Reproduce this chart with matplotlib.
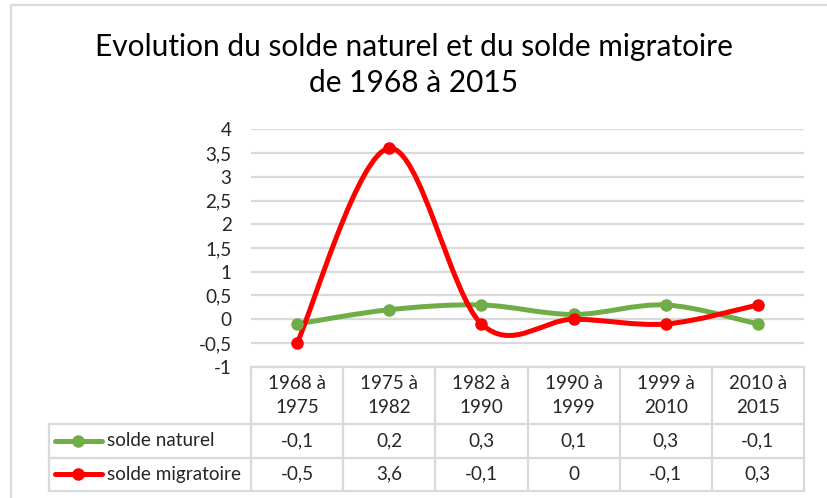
import matplotlib
matplotlib.use('Agg')
import matplotlib.pyplot as plt
from matplotlib.path import Path
from matplotlib.patches import PathPatch
import numpy as np

plt.rcParams['font.family'] = ['Lato', 'DejaVu Sans']

# données
periodes = ['1968 à\n1975', '1975 à\n1982', '1982 à\n1990', '1990 à\n1999', '1999 à\n2010', '2010 à\n2015']
solde_naturel = [-0.1, 0.2, 0.3, 0.1, 0.3, -0.1]
solde_migratoire = [-0.5, 3.6, -0.1, 0.0, -0.1, 0.3]
noms = ['solde naturel', 'solde migratoire']
couleurs = ['#70AD47', '#FF0000']
yticks = [-1, -0.5, 0, 0.5, 1, 1.5, 2, 2.5, 3, 3.5, 4]

W, H = 827, 498
fig = plt.figure(figsize=(W / 100, H / 100), dpi=100)

# repères en pixels
x0, x1 = 251, 804
y_top, y_bot = 129.3, 366.7
y_h, y_r1, y_r2 = 424, 457.5, 491
x_leg = 49
grid_col = '#D9D9D9'
txt_col = '#262626'
fs = 13.6

ax = fig.add_axes([x0 / W, 1 - y_bot / H, (x1 - x0) / W, (y_bot - y_top) / H])
ax.set_xlim(-0.5, len(periodes) - 0.5)
ax.set_ylim(-1, 4)
ax.set_yticks(yticks)
ax.set_yticklabels([('%g' % v).replace('.', ',') for v in yticks], fontsize=fs, color=txt_col)
ax.set_xticks([])
ax.tick_params(axis='y', length=0, pad=14)
for s in ax.spines.values():
    s.set_visible(False)
ax.grid(axis='y', color=grid_col, linewidth=1.6)
ax.set_axisbelow(True)


def courbe_lissee(y):
    # courbe de Bézier type Excel (Catmull-Rom)
    pts = np.column_stack([np.arange(len(y)), y]).astype(float)
    verts = [pts[0]]
    codes = [Path.MOVETO]
    n = len(pts)
    for i in range(n - 1):
        p_prev = pts[max(i - 1, 0)]
        p_next2 = pts[min(i + 2, n - 1)]
        c1 = pts[i] + (pts[i + 1] - p_prev) / 6
        c2 = pts[i + 1] - (p_next2 - pts[i]) / 6
        verts += [c1, c2, pts[i + 1]]
        codes += [Path.CURVE4] * 3
    return Path(verts, codes)


for serie, c in zip([solde_naturel, solde_migratoire], couleurs):
    ax.add_patch(PathPatch(courbe_lissee(serie), facecolor='none', edgecolor=c,
                           linewidth=3.6, capstyle='round', joinstyle='round'))
    ax.plot(range(len(serie)), serie, linestyle='none', marker='o', markersize=8,
            color=c, zorder=3)

# titre
fig.text(0.5, 1 - 47 / H, 'Evolution du solde naturel et du solde migratoire',
         ha='center', va='center', fontsize=21.5, color='black')
fig.text(0.5, 1 - 83 / H, 'de 1968 à 2015', ha='center', va='center',
         fontsize=21.5, color='black')

# tableau de données
tax = fig.add_axes([0, 0, 1, 1])
tax.set_xlim(0, W)
tax.set_ylim(H, 0)
tax.axis('off')

col_w = (x1 - x0) / len(periodes)
edges = [x0 + i * col_w for i in range(len(periodes) + 1)]
lw = 1.6
tax.plot([x0, x1], [y_bot, y_bot], color=grid_col, lw=lw)
for yy in [y_h, y_r1, y_r2]:
    tax.plot([x_leg, x1], [yy, yy], color=grid_col, lw=lw)
for xx in edges:
    tax.plot([xx, xx], [y_bot, y_r2], color=grid_col, lw=lw)
tax.plot([x_leg, x_leg], [y_h, y_r2], color=grid_col, lw=lw)

for i, p in enumerate(periodes):
    xc = (edges[i] + edges[i + 1]) / 2
    l1, l2 = p.split('\n')
    tax.text(xc, 383, l1, ha='center', va='center', fontsize=fs, color=txt_col)
    tax.text(xc, 407, l2, ha='center', va='center', fontsize=fs, color=txt_col)

rows = [(y_h + y_r1) / 2, (y_r1 + y_r2) / 2]
for serie, nom, c, yc in zip([solde_naturel, solde_migratoire], noms, couleurs, rows):
    tax.plot([55, 102], [yc, yc], color=c, lw=3.6, solid_capstyle='round')
    tax.plot([78], [yc], marker='o', markersize=8, color=c)
    tax.text(107, yc, nom, ha='left', va='center', fontsize=fs, color=txt_col)
    for i, v in enumerate(serie):
        xc = (edges[i] + edges[i + 1]) / 2
        tax.text(xc, yc, ('%g' % v).replace('.', ','), ha='center', va='center',
                 fontsize=fs, color=txt_col)

# bordure du graphique
tax.plot([10.5, 10.5, W], [H, 5, 5], color=grid_col, lw=1.6)

fig.savefig('out.png', dpi=100)
